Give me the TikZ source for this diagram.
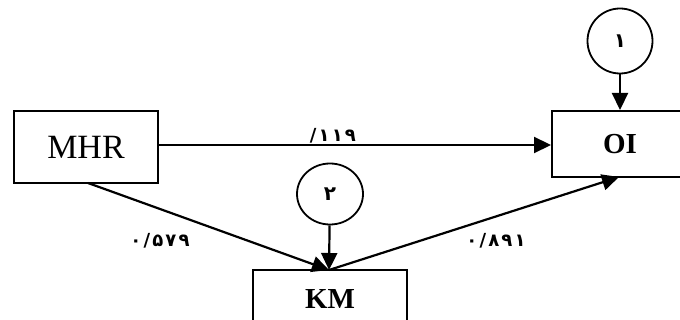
\documentclass[tikz,border=0pt]{standalone}
\usepackage{fontspec}
\setmainfont{Liberation Serif}
\newfontfamily\fadigits[LetterSpace=12]{DejaVu Sans}
\usetikzlibrary{arrows.meta}
\tikzset{
  box/.style={draw, line width=2pt, rectangle, inner sep=0pt},
  errc/.style={draw, line width=1.8pt, ellipse, inner sep=0pt},
  link/.style={line width=2.2pt, -{Triangle[length=17pt,width=16pt]}},
  coef/.style={font=\fadigits\bfseries\fontsize{18}{20}\selectfont, inner sep=0pt}
}
\usetikzlibrary{shapes.geometric}
\begin{document}
\begin{tikzpicture}[x=1pt,y=-1pt]
\clip (0,0) rectangle (680,320);
\useasboundingbox (0,0) rectangle (680,320);
\node[box, minimum width=144pt, minimum height=72pt, font=\fontsize{34}{40}\selectfont] (mhr) at (86,147) {MHR};
\node[box, minimum width=136pt, minimum height=66pt, font=\bfseries\fontsize{29}{34}\selectfont] (oi) at (620,144) {OI};
\node[box, minimum width=154pt, minimum height=58pt, font=\bfseries\fontsize{29}{34}\selectfont] (km) at (330,299) {KM};
\node[errc, minimum width=65pt, minimum height=65pt, font=\fadigits\bfseries\fontsize{20}{24}\selectfont] (e1) at (620,41) {۱};
\node[errc, minimum width=66pt, minimum height=61pt, font=\fadigits\bfseries\fontsize{20}{24}\selectfont] (e2) at (330,194) {۲};
\coordinate (mhrb) at (88,183);
\coordinate (kmt) at (329,270);
\coordinate (oib) at (619,177);
\draw[link] (e1) -- (oi);
\draw[link] (e2) -- (kmt);
\draw[link] (mhr.east |- 0,145) -- (oi.west |- 0,145);
\draw[link] (mhrb) -- (kmt);
\draw[link] (kmt) -- (oib);
\node[coef] (c1) at (333,136) {/۱۱۹};
\node[coef] (c2) at (160,241) {۰/۵۷۹};
\node[coef] (c3) at (496,241) {۰/۸۹۱};
\end{tikzpicture}
\end{document}
